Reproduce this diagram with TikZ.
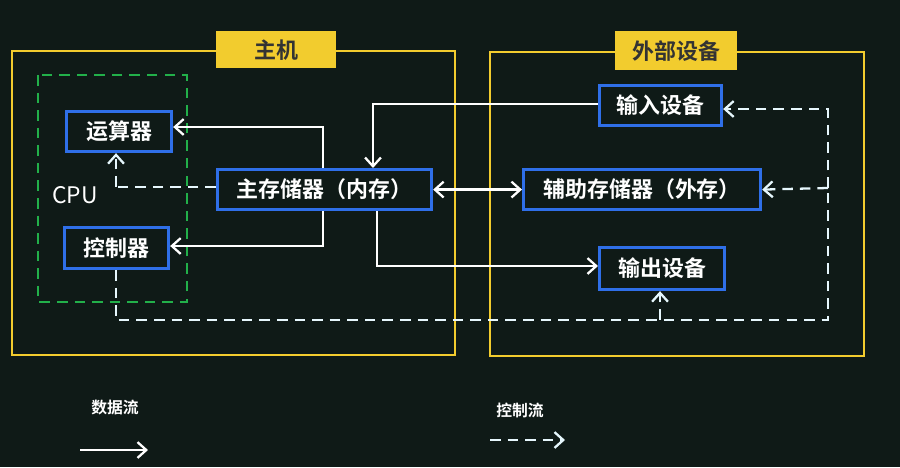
\documentclass[tikz,border=0pt]{standalone}
\usepackage{fontspec}
\newfontfamily\cjk{Noto Sans CJK SC}
\newfontfamily\cjkb{Noto Sans CJK SC Bold}
\setsansfont{Noto Sans CJK SC}
\usetikzlibrary{arrows.meta}
\definecolor{bg}{HTML}{0F1A17}
\definecolor{yel}{HTML}{F2CC2E}
\definecolor{blu}{HTML}{2F6FE8}
\definecolor{grn}{HTML}{22B04A}
\tikzset{
  box/.style={draw=blu,line width=1.8pt,fill=bg,text=white,font=\cjkb\fontsize{12.5}{14}\selectfont,anchor=north west,inner sep=0pt},
  tag/.style={fill=yel,text=black!80,font=\cjkb\fontsize{12.5}{14}\selectfont,anchor=north west,inner sep=0pt},
  frame/.style={draw=yel,line width=1.3pt},
  flow/.style={draw=white,line width=1.3pt,-{Straight Barb[length=5pt,width=9pt]}},
  ctl/.style={draw=white!90!cyan,line width=1.3pt,dash pattern=on 6pt off 4pt,-{Straight Barb[length=5pt,width=9pt]}},
  ctlp/.style={draw=white!90!cyan,line width=1.3pt,dash pattern=on 6pt off 4pt}
}
\begin{document}
\begin{tikzpicture}[x=0.02cm,y=-0.02cm]
\useasboundingbox (0,0) rectangle (900,467);
\fill[bg] (0,0) rectangle (900,467);
\draw[frame] (12,51) rectangle (455,355);
\draw[frame] (490,52) rectangle (864,356);
\node[tag,minimum width=120*0.02cm,minimum height=37*0.02cm] (t1) at (216,31) {主机};
\node[tag,minimum width=122*0.02cm,minimum height=39*0.02cm] (t2) at (615,31) {外部设备};
\draw[grn,line width=1.3pt,dash pattern=on 6pt off 4pt] (38,75) rectangle (187,302);
\node[text=white,font=\sffamily\fontsize{13}{15}\selectfont] (cpu) at (75,195) {CPU};
\node[box,minimum width=105*0.02cm,minimum height=40*0.02cm] (alu) at (65,110) {运算器};
\node[box,minimum width=104*0.02cm,minimum height=41*0.02cm] (cu) at (63,226) {控制器};
\node[box,minimum width=214*0.02cm,minimum height=40*0.02cm] (mem) at (216,168) {主存储器（内存）};
\node[box,minimum width=122*0.02cm,minimum height=40*0.02cm] (in) at (598,84) {输入设备};
\node[box,minimum width=237*0.02cm,minimum height=40*0.02cm] (aux) at (522,168) {辅助存储器（外存）};
\node[box,minimum width=125*0.02cm,minimum height=42*0.02cm] (out) at (598,246) {输出设备};
% data flows
\draw[flow] (mem.north west -| 323,0) |- (alu.east |- 0,127);
\draw[flow] (mem.south west -| 323,0) |- (cu.east |- 0,246);
\draw[flow] (in.west |- 0,104) -| (mem.north west -| 373,0);
\draw[flow] (mem.south west -| 377,0) |- (out.west |- 0,266);
\draw[flow,{Straight Barb[length=5pt,width=9pt]}-{Straight Barb[length=5pt,width=9pt]}] (mem.east) -- (aux.west);
% control flows
\coordinate (c1) at (116,320);
\coordinate (c2) at (828,320);
\coordinate (c3) at (828,188);
\coordinate (c4) at (660,320);
\coordinate (c5) at (116,187);
\draw[ctlp] (cu.south -| 116,0) -- (c1) -- (c2) -- (c3);
\draw[ctl] (c3) |- (in.east |- 0,109);
\draw[ctl] (c3) -- (aux.east);
\draw[ctl] (c4) -- (out.south -| 660,0);
\draw[ctlp] (mem.west |- 0,187) -- (c5);
\draw[ctl] (c5) -- (alu.south -| 116,0);
% legend
\node[text=white,font=\cjkb\fontsize{9}{10}\selectfont] (l1) at (115,408) {数据流};
\coordinate (a1) at (80,450); \coordinate (a2) at (148,450);
\draw[flow] (a1) -- (a2);
\node[text=white,font=\cjkb\fontsize{9}{10}\selectfont] (l2) at (520,410) {控制流};
\coordinate (b1) at (490,440); \coordinate (b2) at (565,440);
\draw[ctl] (b1) -- (b2);
\end{tikzpicture}
\end{document}
